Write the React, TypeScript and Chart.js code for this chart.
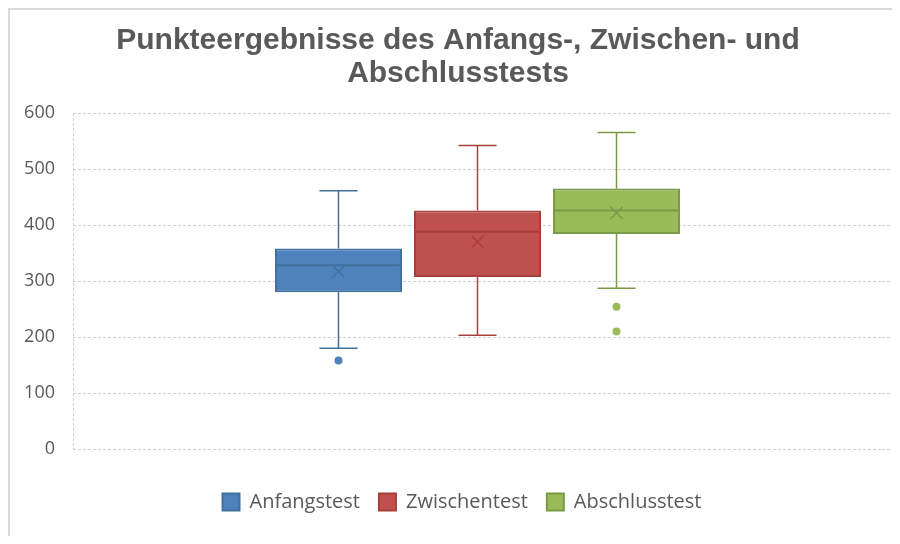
import React, { useEffect, useRef } from 'react';
import { Chart, registerables } from 'chart.js';

Chart.register(...registerables);

const titleLines = ['Punkteergebnisse des Anfangs-, Zwischen- und', 'Abschlusstests'];
const categories = [''];
const seriesNames = ['Anfangstest', 'Zwischentest', 'Abschlusstest'];
const minValues = [180, 203, 287];
const q1Values = [280, 307, 384];
const medianValues = [328, 388, 426];
const q3Values = [358, 426, 465];
const maxValues = [461, 542, 565];
const meanValues = [317, 370, 422];
const outlierValues = [[158], [], [254, 210]];
const yTicks = [0, 100, 200, 300, 400, 500, 600];

const fillColors = ['#4F81BD', '#C0504D', '#9BBB59'];
const lineColors = ['#41719C', '#A5403D', '#7A9A45'];
const gridColor = '#d0d0d0';

const line = (ctx: CanvasRenderingContext2D, x1: number, y1: number, x2: number, y2: number) => {
  ctx.beginPath();
  ctx.moveTo(x1, y1);
  ctx.lineTo(x2, y2);
  ctx.stroke();
};

const boxShiftPlugin = {
  id: 'boxShift',
  afterLayout(chart: any) {
    const lg = chart.legend;
    if (lg) {
      lg.left += 16;
      lg.right += 16;
    }
    const tb = chart.titleBlock;
    if (tb) {
      tb.left += 12;
      tb.right += 12;
    }
  },
};

const gridExtendPlugin = {
  id: 'gridExtend',
  beforeDatasetsDraw(chart: any) {
    const ctx = chart.ctx;
    const y = chart.scales.y;
    const { right } = chart.chartArea;
    ctx.save();
    ctx.strokeStyle = gridColor;
    ctx.lineWidth = 1;
    ctx.setLineDash([3, 2]);
    y.ticks.forEach((t: any) => {
      const py = Math.round(y.getPixelForValue(t.value)) + 0.5;
      line(ctx, right, py, chart.width, py);
    });
    ctx.restore();
  },
};

const boxPlugin = {
  id: 'boxWhisker',
  afterDatasetsDraw(chart: any) {
    const ctx = chart.ctx;
    const y = chart.scales.y;
    chart.data.datasets.forEach((_ds: any, i: number) => {
      if (!chart.isDatasetVisible(i)) return;
      const bar = chart.getDatasetMeta(i).data[0];
      if (!bar) return;
      const cx = bar.x;
      const w = bar.width;
      const yMin = y.getPixelForValue(minValues[i]);
      const yMax = y.getPixelForValue(maxValues[i]);
      const yQ1 = y.getPixelForValue(q1Values[i]);
      const yQ3 = y.getPixelForValue(q3Values[i]);
      const yMed = y.getPixelForValue(medianValues[i]);
      const yMean = y.getPixelForValue(meanValues[i]);
      ctx.save();
      ctx.strokeStyle = lineColors[i];
      ctx.lineWidth = 1.5;
      line(ctx, cx, yQ3, cx, yMax);
      line(ctx, cx, yQ1, cx, yMin);
      const cap = w * 0.15;
      line(ctx, cx - cap, yMax, cx + cap, yMax);
      line(ctx, cx - cap, yMin, cx + cap, yMin);
      ctx.lineWidth = 2;
      line(ctx, cx - w / 2, yMed, cx + w / 2, yMed);
      const s = 6;
      ctx.lineWidth = 1.5;
      line(ctx, cx - s, yMean - s, cx + s, yMean + s);
      line(ctx, cx - s, yMean + s, cx + s, yMean - s);
      ctx.fillStyle = fillColors[i];
      outlierValues[i].forEach((v) => {
        ctx.beginPath();
        ctx.arc(cx, y.getPixelForValue(v), 4, 0, Math.PI * 2);
        ctx.fill();
      });
      ctx.restore();
    });
  },
};

export default function App() {
  const ref = useRef<HTMLCanvasElement>(null);
  useEffect(() => {
    if (!ref.current) return;
    const chart = new Chart(ref.current, {
      type: 'bar',
      data: {
        labels: categories,
        datasets: seriesNames.map((name, i) => ({
          label: name,
          data: [[q1Values[i], q3Values[i]]] as any,
          backgroundColor: fillColors[i],
          borderColor: lineColors[i],
          borderWidth: 2,
          borderSkipped: false,
        })),
      },
      options: {
        responsive: false,
        animation: false,
        devicePixelRatio: 1,
        categoryPercentage: 0.5155,
        barPercentage: 0.9137,
        layout: { padding: { left: 0, right: 10, top: 0, bottom: 14 } },
        plugins: {
          title: {
            display: true,
            text: titleLines,
            color: '#595959',
            font: { family: 'Liberation Sans', size: 30, weight: 'bold', lineHeight: 1.1 },
            padding: { top: 14.5, bottom: 22.5 },
          },
          legend: {
            position: 'bottom',
            labels: {
              boxWidth: 17,
              boxHeight: 17,
              color: '#595959',
              font: { family: 'Open Sans', size: 20 },
              padding: 19,
            },
          },
          tooltip: { enabled: false },
        },
        scales: {
          x: {
            ticks: { display: false },
            grid: {
              display: true,
              drawTicks: false,
              color: (c: any) => (c.index === 0 ? gridColor : 'rgba(0,0,0,0)'),
            },
            border: { display: false, dash: [3, 2] },
            afterFit: (s: any) => {
              s.height = 24;
            },
          },
          y: {
            min: 0,
            max: 600,
            afterBuildTicks: (s: any) => {
              s.ticks = yTicks.map((v) => ({ value: v }));
            },
            ticks: {
              color: '#595959',
              font: { family: 'Open Sans', size: 18 },
              padding: 18,
            },
            grid: { color: gridColor, drawTicks: false },
            border: { display: false, dash: [3, 2] },
            afterFit: (s: any) => {
              s.width = 63;
            },
          },
        },
      },
      plugins: [boxShiftPlugin, gridExtendPlugin, boxPlugin],
    });
    return () => chart.destroy();
  }, []);
  return (
    <div
      style={{
        width: 882,
        height: 526,
        borderLeft: '2px solid #d9d9d9',
        borderTop: '2px solid #d9d9d9',
        background: '#fff',
      }}
    >
      <canvas ref={ref} width={882} height={526} style={{ display: 'block' }} />
    </div>
  );
}
